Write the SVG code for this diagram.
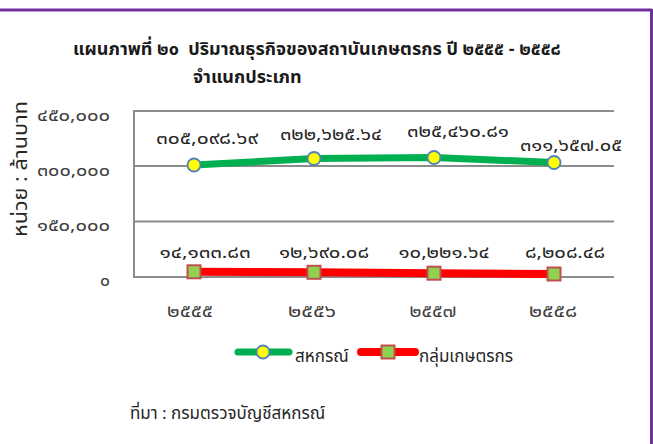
<svg xmlns="http://www.w3.org/2000/svg" width="653" height="444" viewBox="0 0 653 444">
<style>
text{font-family:"Noto Sans Thai","Noto Sans","DejaVu Sans",sans-serif;fill:#262626}
.t{font-size:18px;font-weight:bold;fill:#1a1a1a}
.ax{font-size:17px;fill:#404040;text-anchor:end}
.cat{font-size:17px;fill:#404040;text-anchor:middle}
.dl{font-size:17px;fill:#262626;text-anchor:middle}
.lg{font-size:17px;fill:#262626}
.grid{stroke:#8c8c8c;stroke-width:2;fill:none}
.g{stroke:#00b050;stroke-width:7;fill:none;stroke-linejoin:round}
.r{stroke:#ff0000;stroke-width:8;fill:none;stroke-linejoin:round}
.mc{fill:#ffff00;stroke:#4f81bd;stroke-width:1.8}
.ms{fill:#92d050;stroke:#c0504d;stroke-width:2}
</style>
<rect width="653" height="444" fill="#fff"/>
<g id="frame">
<line x1="0" y1="10" x2="652" y2="10" stroke="#7030a0" stroke-width="3"/>
<line x1="651.5" y1="9" x2="651.5" y2="444" stroke="#7030a0" stroke-width="3"/>
</g>
<g id="title">
<text class="t" x="73" y="55" xml:space="preserve">แผนภาพที่ ๒๐  ปริมาณธุรกิจของสถาบันเกษตรกร ปี ๒๕๕๕ - ๒๕๕๘</text>
<text class="t" x="193" y="83">จำแนกประเภท</text>
</g>
<g id="axes">
<line class="grid" x1="134" y1="111" x2="614" y2="111"/>
<line class="grid" x1="134" y1="166" x2="614" y2="166"/>
<line class="grid" x1="134" y1="221.5" x2="614" y2="221.5"/>
<line class="grid" x1="134" y1="277" x2="614" y2="277"/>
<line class="grid" x1="134" y1="110" x2="134" y2="278"/>
<text class="ax" x="110" y="121" textLength="73" lengthAdjust="spacingAndGlyphs">๔๕๐,๐๐๐</text>
<text class="ax" x="110" y="176" textLength="73" lengthAdjust="spacingAndGlyphs">๓๐๐,๐๐๐</text>
<text class="ax" x="110" y="231" textLength="73" lengthAdjust="spacingAndGlyphs">๑๕๐,๐๐๐</text>
<text class="ax" x="110" y="286" textLength="10" lengthAdjust="spacingAndGlyphs">๐</text>
<text class="cat" x="190" y="317" textLength="46" lengthAdjust="spacingAndGlyphs">๒๕๕๕</text>
<text class="cat" x="312" y="317" textLength="48" lengthAdjust="spacingAndGlyphs">๒๕๕๖</text>
<text class="cat" x="433" y="317" textLength="47" lengthAdjust="spacingAndGlyphs">๒๕๕๗</text>
<text class="cat" x="553" y="317" textLength="48" lengthAdjust="spacingAndGlyphs">๒๕๕๘</text>
<text font-size="19" fill="#404040" transform="translate(27,169) rotate(-90)" text-anchor="middle" textLength="136" lengthAdjust="spacingAndGlyphs">หน่วย : ล้านบาท</text>
</g>
<g id="connectors">
<polyline class="g" points="194,165 314,158.5 434,157.5 554,162.5"/>
<polyline class="r" points="194,271.8 314,272.3 434,273.2 554,274"/>
</g>
<g id="series-sahakorn">
<circle class="mc" cx="194" cy="165" r="6.5"/>
<circle class="mc" cx="314" cy="158.5" r="6.5"/>
<circle class="mc" cx="434" cy="157.5" r="6.5"/>
<circle class="mc" cx="554" cy="162.5" r="6.5"/>
<text class="dl" x="207" y="144" textLength="102" lengthAdjust="spacingAndGlyphs">๓๐๕,๐๙๘.๖๙</text>
<text class="dl" x="331" y="140" textLength="102" lengthAdjust="spacingAndGlyphs">๓๒๒,๖๒๕.๖๔</text>
<text class="dl" x="458" y="137" textLength="102" lengthAdjust="spacingAndGlyphs">๓๒๕,๔๖๐.๘๑</text>
<text class="dl" x="571" y="151" textLength="102" lengthAdjust="spacingAndGlyphs">๓๑๑,๖๕๗.๐๕</text>
</g>
<g id="series-kaset">
<rect class="ms" x="187.5" y="265.3" width="13" height="13"/>
<rect class="ms" x="307.5" y="265.8" width="13" height="13"/>
<rect class="ms" x="427.5" y="266.7" width="13" height="13"/>
<rect class="ms" x="547.5" y="267.5" width="13" height="13"/>
<text class="dl" x="205" y="258" textLength="91" lengthAdjust="spacingAndGlyphs">๑๔,๑๓๓.๘๓</text>
<text class="dl" x="324" y="258" textLength="90" lengthAdjust="spacingAndGlyphs">๑๒,๖๙๐.๐๘</text>
<text class="dl" x="444" y="258" textLength="91" lengthAdjust="spacingAndGlyphs">๑๐,๒๒๑.๖๔</text>
<text class="dl" x="565" y="258" textLength="80" lengthAdjust="spacingAndGlyphs">๘,๒๐๘.๔๘</text>
</g>
<g id="legend">
<line x1="238" y1="352" x2="289" y2="352" stroke="#00b050" stroke-width="7" stroke-linecap="round"/>
<circle class="mc" cx="263" cy="352" r="6.5"/>
<text class="lg" x="295" y="362">สหกรณ์</text>
<line x1="361" y1="352" x2="415" y2="352" stroke="#ff0000" stroke-width="8" stroke-linecap="round"/>
<rect class="ms" x="381.5" y="345.5" width="13" height="13"/>
<text class="lg" x="419" y="362">กลุ่มเกษตรกร</text>
</g>
<g id="source">
<text class="lg" x="130" y="419">ที่มา : กรมตรวจบัญชีสหกรณ์</text>
</g>
</svg>
